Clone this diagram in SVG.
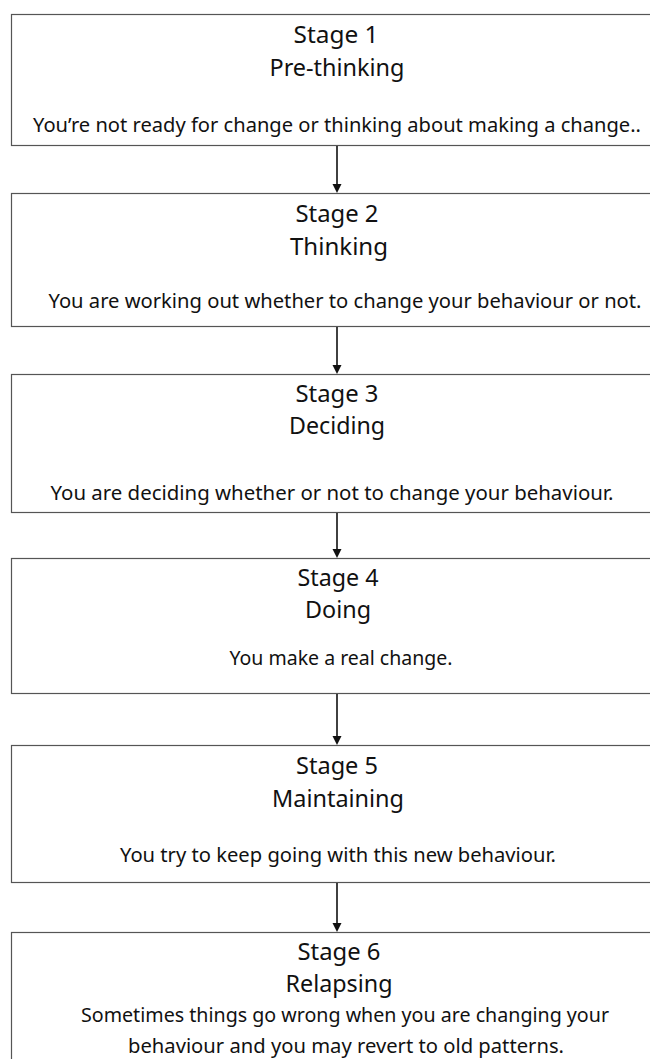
<svg xmlns="http://www.w3.org/2000/svg" width="650" height="1059" viewBox="0 0 650 1059">
<defs>
<style>
.box{fill:#fff;stroke:#555;stroke-width:1.2}
.t{font-family:"Noto Sans","Open Sans",sans-serif;font-size:24px;fill:#111;text-anchor:middle}
.b{font-family:"Noto Sans","Open Sans",sans-serif;font-size:20px;fill:#111;text-anchor:middle}
.c{stroke:#111;stroke-width:1.6;fill:none}
.h{fill:#111}
</style>
</defs>
<rect width="650" height="1059" fill="#fff"/>
<g id="stage1">
<rect class="box" x="11.5" y="14.5" width="660" height="131"/>
<text class="t" x="336" y="43" textLength="85" lengthAdjust="spacingAndGlyphs">Stage 1</text>
<text class="t" x="337" y="76" textLength="135" lengthAdjust="spacingAndGlyphs">Pre-thinking</text>
<text class="b" x="337" y="132" textLength="608" lengthAdjust="spacingAndGlyphs">You’re not ready for change or thinking about making a change..</text>
</g>
<g id="stage2">
<rect class="box" x="11.5" y="193.5" width="660" height="133"/>
<text class="t" x="337" y="222" textLength="83" lengthAdjust="spacingAndGlyphs">Stage 2</text>
<text class="t" x="339" y="255" textLength="98" lengthAdjust="spacingAndGlyphs">Thinking</text>
<text class="b" x="345" y="308" textLength="593" lengthAdjust="spacingAndGlyphs">You are working out whether to change your behaviour or not.</text>
</g>
<g id="stage3">
<rect class="box" x="11.5" y="374.5" width="660" height="138"/>
<text class="t" x="337" y="402" textLength="83" lengthAdjust="spacingAndGlyphs">Stage 3</text>
<text class="t" x="337" y="434" textLength="96" lengthAdjust="spacingAndGlyphs">Deciding</text>
<text class="b" x="332" y="500" textLength="563" lengthAdjust="spacingAndGlyphs">You are deciding whether or not to change your behaviour.</text>
</g>
<g id="stage4">
<rect class="box" x="11.5" y="558.5" width="660" height="135"/>
<text class="t" x="338" y="586" textLength="81" lengthAdjust="spacingAndGlyphs">Stage 4</text>
<text class="t" x="338" y="618" textLength="66" lengthAdjust="spacingAndGlyphs">Doing</text>
<text class="b" x="341" y="665" textLength="223" lengthAdjust="spacingAndGlyphs">You make a real change.</text>
</g>
<g id="stage5">
<rect class="box" x="11.5" y="745.5" width="660" height="137"/>
<text class="t" x="337" y="774" textLength="82" lengthAdjust="spacingAndGlyphs">Stage 5</text>
<text class="t" x="338" y="807" textLength="132" lengthAdjust="spacingAndGlyphs">Maintaining</text>
<text class="b" x="338" y="862" textLength="436" lengthAdjust="spacingAndGlyphs">You try to keep going with this new behaviour.</text>
</g>
<g id="stage6">
<rect class="box" x="11.5" y="932.5" width="660" height="140"/>
<text class="t" x="339" y="960" textLength="83" lengthAdjust="spacingAndGlyphs">Stage 6</text>
<text class="t" x="339" y="992" textLength="107" lengthAdjust="spacingAndGlyphs">Relapsing</text>
<text class="b" x="345" y="1022" textLength="528" lengthAdjust="spacingAndGlyphs">Sometimes things go wrong when you are changing your</text>
<text class="b" x="346" y="1053" textLength="436" lengthAdjust="spacingAndGlyphs">behaviour and you may revert to old patterns.</text>
</g>
<g id="connectors">
<line class="c" x1="337" y1="146" x2="337" y2="185"/>
<path class="h" d="M332.5,184 L341.5,184 L337,193 Z"/>
<line class="c" x1="337" y1="327" x2="337" y2="366"/>
<path class="h" d="M332.5,365 L341.5,365 L337,374 Z"/>
<line class="c" x1="337" y1="513" x2="337" y2="550"/>
<path class="h" d="M332.5,549 L341.5,549 L337,558 Z"/>
<line class="c" x1="337" y1="694" x2="337" y2="737"/>
<path class="h" d="M332.5,736 L341.5,736 L337,745 Z"/>
<line class="c" x1="337" y1="883" x2="337" y2="924"/>
<path class="h" d="M332.5,923 L341.5,923 L337,932 Z"/>
</g>
</svg>
